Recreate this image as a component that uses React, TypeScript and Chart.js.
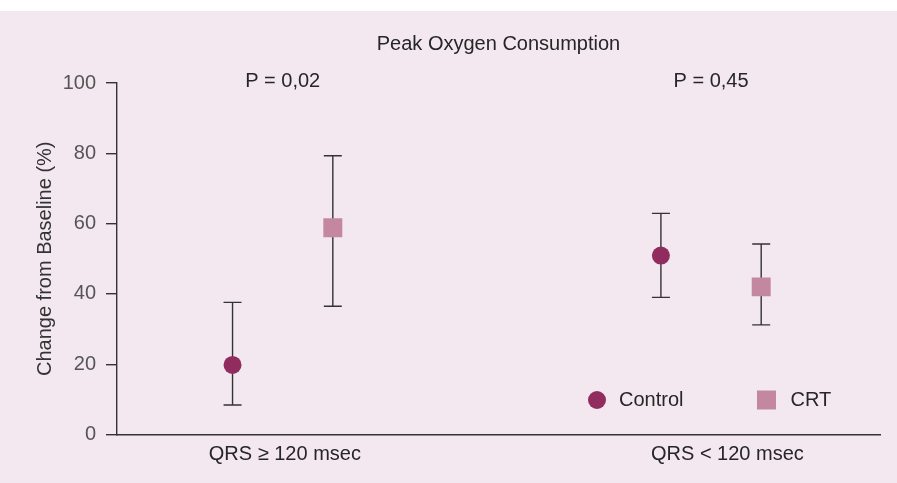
import React, { useEffect, useRef } from "react";
import { Chart, registerables } from "chart.js";

Chart.register(...registerables);

// ---- data ----
const groupLabels = ["QRS ≥ 120 msec", "QRS < 120 msec"];
const groupCenters = [0.76, 2.725];
const labelPositions = [0.77, 2.8];
const groupOffset = 0.23;
const pValueLabels = ["P = 0,02", "P = 0,45"];

const controlMean = [19.8, 50.9];
const controlLow = [8.4, 39.0];
const controlHigh = [37.6, 62.9];

const crtMean = [58.8, 42.0];
const crtLow = [36.5, 31.2];
const crtHigh = [79.3, 54.2];

const yTickValues = [0, 20, 40, 60, 80, 100];

const TITLE = "Peak Oxygen Consumption";
const Y_TITLE = "Change from Baseline (%)";

const CONTROL_COLOR = "#912c5f";
const CRT_COLOR = "#c3879f";
const BG = "#f3e8ef";
const TEXT = "#262626";
const AXIS = "#333333";
const FONT = "'Liberation Sans', Arial, Helvetica, sans-serif";

const lows = [controlLow, crtLow];
const highs = [controlHigh, crtHigh];

const errorBarPlugin = {
  id: "errorBars",
  beforeDatasetsDraw(chart: any) {
    const ctx = chart.ctx;
    const y = chart.scales.y;
    ctx.save();
    ctx.strokeStyle = AXIS;
    ctx.lineWidth = 1.4;
    chart.data.datasets.forEach((_ds: any, di: number) => {
      const meta = chart.getDatasetMeta(di);
      meta.data.forEach((el: any, i: number) => {
        const px = el.x;
        const yl = y.getPixelForValue(lows[di][i]);
        const yh = y.getPixelForValue(highs[di][i]);
        const cap = 9;
        ctx.beginPath();
        ctx.moveTo(px, yl);
        ctx.lineTo(px, yh);
        ctx.moveTo(px - cap, yl);
        ctx.lineTo(px + cap, yl);
        ctx.moveTo(px - cap, yh);
        ctx.lineTo(px + cap, yh);
        ctx.stroke();
      });
    });
    ctx.restore();
  },
};

const overlayPlugin = {
  id: "overlay",
  afterDraw(chart: any) {
    const ctx = chart.ctx;
    const xs = chart.scales.x;
    const ys = chart.scales.y;
    const area = chart.chartArea;
    ctx.save();
    ctx.font = `20px ${FONT}`;
    ctx.fillStyle = TEXT;
    ctx.textBaseline = "middle";
    ctx.textAlign = "center";
    pValueLabels.forEach((t, i) => {
      ctx.fillText(t, xs.getPixelForValue(groupCenters[i]), ys.getPixelForValue(100) - 2);
    });

    // legend
    ctx.textAlign = "left";
    const ly = area.bottom - 34.5;
    let lx = area.right - 283;
    chart.data.datasets.forEach((ds: any, di: number) => {
      ctx.fillStyle = ds.backgroundColor;
      if (ds.pointStyle === "circle") {
        ctx.beginPath();
        ctx.arc(lx, ly, 9, 0, Math.PI * 2);
        ctx.fill();
        ctx.fillStyle = TEXT;
        ctx.fillText(ds.label, lx + 22, ly);
        lx += 22 + ctx.measureText(ds.label).width + 83;
      } else {
        ctx.fillRect(lx - 9.5, ly - 9.5, 19, 19);
        ctx.fillStyle = TEXT;
        ctx.fillText(ds.label, lx + 24, ly);
      }
    });
    ctx.restore();
  },
};

export default function App() {
  const ref = useRef<HTMLCanvasElement | null>(null);

  useEffect(() => {
    if (!ref.current) return;
    const chart = new Chart(ref.current, {
      type: "scatter",
      data: {
        datasets: [
          {
            label: "Control",
            data: controlMean.map((v, i) => ({ x: groupCenters[i] - groupOffset, y: v })),
            backgroundColor: CONTROL_COLOR,
            borderColor: CONTROL_COLOR,
            pointStyle: "circle",
            pointRadius: 9,
            pointHoverRadius: 9,
            borderWidth: 0,
          },
          {
            label: "CRT",
            data: crtMean.map((v, i) => ({ x: groupCenters[i] + groupOffset, y: v })),
            backgroundColor: CRT_COLOR,
            borderColor: CRT_COLOR,
            pointStyle: "rect",
            pointRadius: 13.4,
            pointHoverRadius: 13.4,
            borderWidth: 0,
          },
        ],
      },
      options: {
        animation: false,
        responsive: true,
        maintainAspectRatio: false,
        events: [],
        layout: { padding: { left: 0, right: 17, top: 0, bottom: 8.5 } },
        plugins: {
          legend: { display: false },
          tooltip: { enabled: false },
          title: {
            display: true,
            text: TITLE,
            fullSize: false,
            color: TEXT,
            font: { family: FONT, size: 20, weight: "normal" },
            padding: { top: 21.5, bottom: 26.5 },
          },
        },
        scales: {
          x: {
            type: "linear",
            min: 0,
            max: 3.5,
            afterBuildTicks: (scale: any) => {
              scale.ticks = labelPositions.map((v) => ({ value: v }));
            },
            grid: { display: false, drawTicks: false },
            border: { display: true, color: AXIS, width: 1.4 },
            ticks: {
              autoSkip: false,
              maxRotation: 0,
              padding: 8,
              color: TEXT,
              font: { family: FONT, size: 20 },
              callback: (_v: any, i: number) => groupLabels[i],
            },
          },
          y: {
            min: 0,
            max: 100,
            afterBuildTicks: (scale: any) => {
              scale.ticks = yTickValues.map((v) => ({ value: v }));
            },
            afterFit: (scale: any) => {
              scale.width = 117;
            },
            grid: {
              display: true,
              drawOnChartArea: false,
              drawTicks: true,
              tickLength: 11,
              color: AXIS,
              lineWidth: 1.4,
            },
            border: { display: true, color: AXIS, width: 1.4 },
            ticks: {
              padding: 10,
              color: "#555555",
              font: { family: FONT, size: 20 },
            },
            title: {
              display: true,
              text: Y_TITLE,
              color: "#333333",
              font: { family: FONT, size: 20 },
              padding: { top: 33, bottom: 0 },
            },
          },
        },
      },
      plugins: [errorBarPlugin, overlayPlugin],
    } as any);
    return () => chart.destroy();
  }, []);

  return (
    <div
      style={{
        position: "fixed",
        left: 0,
        top: 11,
        width: 897,
        height: 472,
        background: BG,
      }}
    >
      <canvas ref={ref} />
    </div>
  );
}
